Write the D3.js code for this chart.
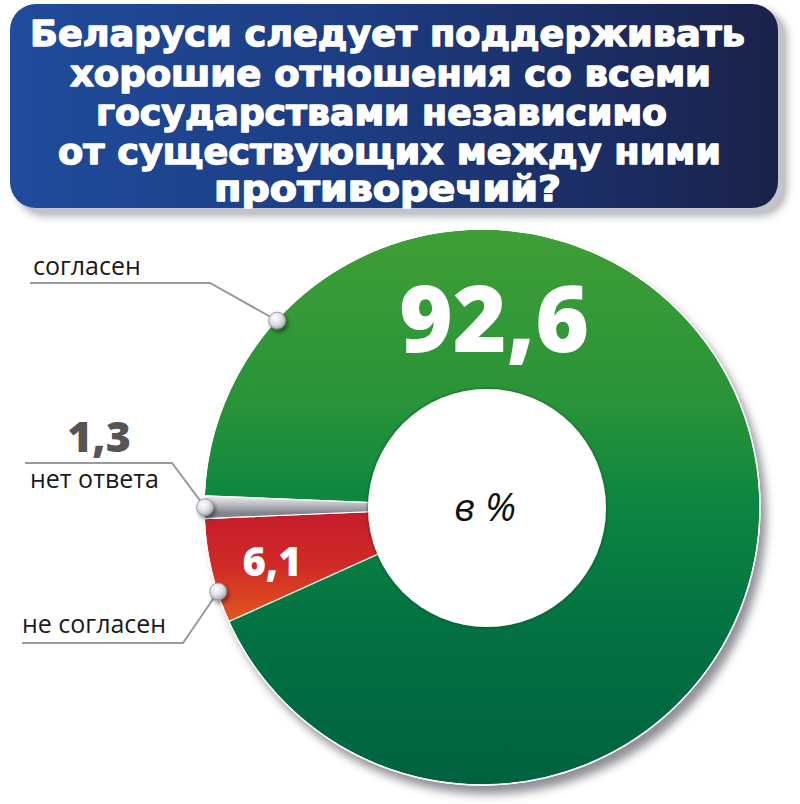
<!DOCTYPE html>
<html>
<head>
<meta charset="utf-8">
<script src="https://cdn.jsdelivr.net/npm/d3@7"></script>
<style>
  html, body { margin: 0; padding: 0; background: #ffffff; }
  svg { display: block; }
</style>
</head>
<body>
<svg id="chart" width="800" height="804"></svg>
<script>
// ---- data ----
const titleLines = [
  "Беларуси следует поддерживать",
  "хорошие отношения со всеми",
  "государствами независимо",
  "от существующих между ними",
  "противоречий?"
];
const categories = ["согласен", "не согласен", "нет ответа"];
const values = [92.6, 6.1, 1.3];
const valueLabels = ["92,6", "6,1", "1,3"];
const unitLabel = "в %";

// ---- layout ----
const W = 800, H = 804;
const svg = d3.select("#chart");
const defs = svg.append("defs");

// filters
const sh = defs.append("filter").attr("id", "shadow").attr("x", "-20%").attr("y", "-20%").attr("width", "140%").attr("height", "140%");
sh.append("feGaussianBlur").attr("stdDeviation", 5);
const sh2 = defs.append("filter").attr("id", "dotShadow").attr("x", "-50%").attr("y", "-50%").attr("width", "200%").attr("height", "200%");
sh2.append("feDropShadow").attr("dx", 2).attr("dy", 3).attr("stdDeviation", 2).attr("flood-color", "#000").attr("flood-opacity", 0.45);
const sh3 = defs.append("filter").attr("id", "innerShadow").attr("x", "-20%").attr("y", "-20%").attr("width", "140%").attr("height", "140%");
sh3.append("feDropShadow").attr("dx", 0).attr("dy", 0).attr("stdDeviation", 1.5).attr("flood-color", "#03301a").attr("flood-opacity", 0.8);

// gradients
function linGrad(id, x1, y1, x2, y2, stops) {
  const g = defs.append("linearGradient").attr("id", id)
    .attr("gradientUnits", "userSpaceOnUse")
    .attr("x1", x1).attr("y1", y1).attr("x2", x2).attr("y2", y2);
  stops.forEach(s => g.append("stop").attr("offset", s[0]).attr("stop-color", s[1]));
}
linGrad("bannerGrad", 10, 0, 780, 0, [[0, "#1f4c9c"], [0.45, "#1d3c82"], [0.8, "#1b2b60"], [1, "#1a2249"]]);

// ---- title banner ----
const bx = 10, by = 4, bw = 768, bh = 204;
svg.append("rect").attr("x", bx + 8).attr("y", by + 7).attr("width", bw).attr("height", bh)
  .attr("rx", 26).attr("fill", "#9d9fa8").attr("filter", "url(#shadow)");
svg.append("rect").attr("x", bx + 6).attr("y", by + 5).attr("width", bw).attr("height", bh)
  .attr("rx", 26).attr("fill", "#c2c4cc");
svg.append("rect").attr("x", bx).attr("y", by).attr("width", bw).attr("height", bh)
  .attr("rx", 26).attr("fill", "url(#bannerGrad)");

const titleX = [[30, 745], [70, 711], [96, 667], [58, 721], [214, 561]];
const titleY = [46, 86, 125, 164, 201];
svg.append("g").selectAll("text").data(titleLines).join("text")
  .attr("x", (d, i) => (titleX[i][0] + titleX[i][1]) / 2)
  .attr("y", (d, i) => titleY[i])
  .attr("text-anchor", "middle")
  .attr("textLength", (d, i) => titleX[i][1] - titleX[i][0])
  .attr("lengthAdjust", "spacingAndGlyphs")
  .attr("font-family", "'DejaVu Sans Condensed', 'DejaVu Sans', sans-serif")
  .attr("font-weight", "bold")
  .attr("font-size", 36)
  .attr("fill", "#ffffff")
  .attr("stroke", "#ffffff")
  .attr("stroke-width", 1.3)
  .attr("stroke-linejoin", "round")
  .text(d => d);

// ---- donut ----
const cx = 482, cy = 507, R = 278;
const innerCx = 487, innerCy = 508, innerR = 119;
const deg = Math.PI / 180;
const startAngle = 272.3 * deg;

// gradient coordinates are in the donut group's own (centred) space
linGrad("greenGrad", 0, -R, 0, R, [[0, "#3f9e36"], [0.3, "#2a9438"], [0.5, "#0c8541"], [0.75, "#026f43"], [1, "#00623f"]]);
linGrad("redGrad", 0, -2, 0, 118, [[0, "#c31a2b"], [0.5, "#cf2a27"], [1, "#e45a1c"]]);
linGrad("greyGrad", 0, -12, 0, 6, [[0, "#f4f4f6"], [0.35, "#cfcfd5"], [1, "#83838c"]]);
const fills = ["url(#greenGrad)", "url(#redGrad)", "url(#greyGrad)"];

const pie = d3.pie().sort(null).value(d => d)
  .startAngle(startAngle).endAngle(startAngle + 2 * Math.PI);
const arcs = pie(values);
const arc = d3.arc().innerRadius(0).outerRadius(R);

// shadow under the donut
svg.append("circle").attr("cx", cx + 6).attr("cy", cy + 9).attr("r", R)
  .attr("fill", "#8e8e96").attr("filter", "url(#shadow)");

const g = svg.append("g").attr("transform", `translate(${cx},${cy})`);
g.selectAll("path.slice").data(arcs).join("path")
  .attr("class", "slice")
  .attr("d", arc)
  .attr("fill", (d, i) => fills[i])
  .attr("stroke", "#ffffff")
  .attr("stroke-width", 1.2);
// white rim
g.append("circle").attr("r", R).attr("fill", "none").attr("stroke", "#ffffff").attr("stroke-width", 1.5);

// inner hole
svg.append("circle").attr("cx", innerCx).attr("cy", innerCy).attr("r", innerR)
  .attr("fill", "#ffffff").attr("filter", "url(#innerShadow)");
svg.append("text").attr("x", innerCx - 2).attr("y", innerCy + 13)
  .attr("text-anchor", "middle")
  .attr("font-family", "'Open Sans', sans-serif")
  .attr("font-style", "italic")
  .attr("font-size", 39)
  .attr("fill", "#111111")
  .text(unitLabel);

// ---- value labels ----
const valuePos = [
  { x: 494, y: 352, size: 92, fill: "#ffffff" },
  { x: 272, y: 576, size: 40, fill: "#ffffff" },
  { x: 99,  y: 452, size: 43, fill: "#555555" }
];
svg.append("g").selectAll("text").data(valueLabels).join("text")
  .attr("x", (d, i) => valuePos[i].x)
  .attr("y", (d, i) => valuePos[i].y)
  .attr("text-anchor", "middle")
  .attr("font-family", "'Open Sans', sans-serif")
  .attr("font-weight", 800)
  .attr("font-size", (d, i) => valuePos[i].size)
  .attr("fill", (d, i) => valuePos[i].fill)
  .text(d => d);

// ---- leaders & category labels ----
// dot angle on each slice (fraction along the slice)
const dotFrac = [0.12, 0.3, 0.5];
const dots = arcs.map((a, i) => {
  const ang = a.startAngle + (a.endAngle - a.startAngle) * dotFrac[i];
  return [cx + Math.sin(ang) * (R - 1), cy - Math.cos(ang) * (R - 1)];
});
const leaderPaths = [
  [[30, 283], [210, 283], dots[0]],
  [[22, 643], [183, 643], dots[1]],
  [[25, 463], [172, 463], dots[2]]
];
svg.append("g").selectAll("path").data(leaderPaths).join("path")
  .attr("d", d => d3.line()(d))
  .attr("fill", "none")
  .attr("stroke", "#9a9a9a")
  .attr("stroke-width", 2);

const dotGrad = defs.append("radialGradient").attr("id", "dotGrad")
  .attr("cx", "40%").attr("cy", "35%").attr("r", "65%");
dotGrad.append("stop").attr("offset", 0).attr("stop-color", "#ffffff");
dotGrad.append("stop").attr("offset", 0.6).attr("stop-color", "#dcdde3");
dotGrad.append("stop").attr("offset", 1).attr("stop-color", "#a9aab3");

svg.append("g").selectAll("circle").data(dots).join("circle")
  .attr("cx", d => d[0]).attr("cy", d => d[1]).attr("r", 8.5)
  .attr("fill", "url(#dotGrad)")
  .attr("stroke", "#8d8e96").attr("stroke-width", 0.8)
  .attr("filter", "url(#dotShadow)");

const labelPos = [[33, 275], [22, 633], [30, 488]];
svg.append("g").selectAll("text").data(categories).join("text")
  .attr("x", (d, i) => labelPos[i][0])
  .attr("y", (d, i) => labelPos[i][1])
  .attr("font-family", "'Open Sans', sans-serif")
  .attr("font-size", 25)
  .attr("fill", "#1a1a1a")
  .text(d => d);
</script>
</body>
</html>
